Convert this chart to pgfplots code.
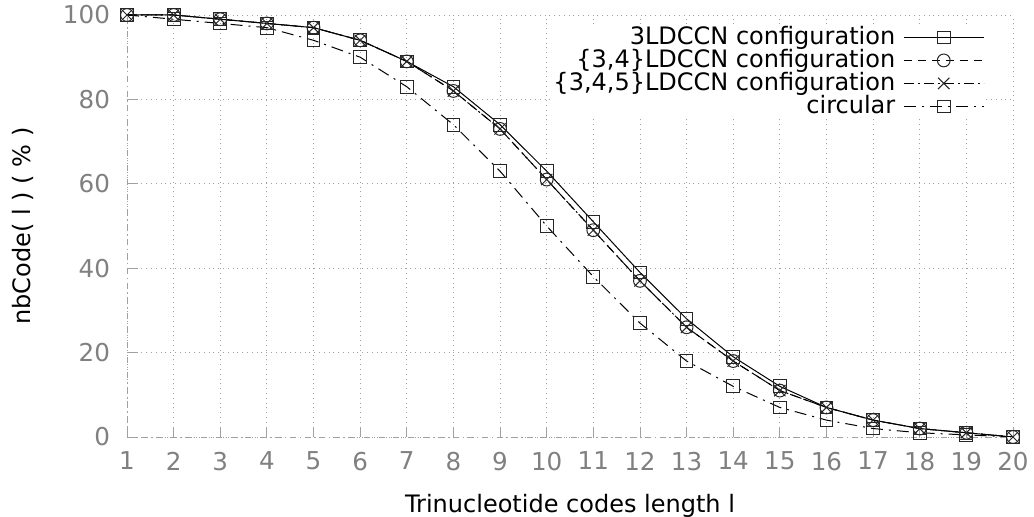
\documentclass[border=0pt]{standalone}
\usepackage{fontspec}
\setmainfont{DejaVu Sans}
\usepackage{pgfplots}
\pgfplotsset{compat=1.18}
\definecolor{ticktext}{RGB}{128,128,128}
\definecolor{gridgray}{RGB}{160,160,160}

\begin{document}
\begin{tikzpicture}
\begin{axis}[
  scale only axis,
  width=443pt, height=211pt,
  xmin=1, xmax=20, ymin=0, ymax=100,
  xtick={1,...,20}, ytick={0,20,...,100},
  axis x line*=bottom, axis y line*=left,
  axis line style={-, gridgray, dash dot},
  tick style={gridgray, thin}, tick align=inside,
  major tick length=5pt,
  grid=major,
  major grid style={gridgray, dotted, thin},
  font=\fontsize{12}{13}\selectfont,
  /pgf/number format/assume math mode=true,
  tick label style={text=ticktext, font=\fontsize{12.3}{13}\selectfont},
  xticklabel style={yshift=-4pt},
  yticklabel style={xshift=-5pt},
  xlabel={Trinucleotide codes length l},
  ylabel={nbCode( l ) ( \% )},
  xlabel style={yshift=-5pt},
  ylabel style={yshift=8pt},
  legend plot pos=right,
  legend cell align=right,
  legend style={draw=none, fill=white, at={(0.968,0.975)}, anchor=north east,
    font=\fontsize{12}{13}\selectfont, row sep=0pt, inner sep=0pt,
    nodes={inner sep=0.5pt, text height=8.8pt, text depth=1.7pt},
    /tikz/every odd column/.append style={column sep=3.5pt}},
  legend image code/.code={\draw[mark repeat=2,mark phase=2] plot coordinates {(0pt,0pt) (20pt,0pt) (40pt,0pt)};},
  every axis plot/.append style={black, line width=0.5pt, mark size=3.2pt, mark options={solid, draw=black!85}},
]
\addplot[mark=square] coordinates {
(1,100) (2,100) (3,99) (4,98) (5,97) (6,94) (7,89) (8,83) (9,74) (10,63)
(11,51) (12,39) (13,28) (14,19) (15,12) (16,7) (17,4) (18,2) (19,1) (20,0)};
\addlegendentry{3LDCCN configuration}
\addplot[mark=o, dash pattern=on 4pt off 3pt] coordinates {
(1,100) (2,100) (3,99) (4,98) (5,97) (6,94) (7,89) (8,82) (9,73) (10,61)
(11,49) (12,37) (13,26) (14,18) (15,11) (16,7) (17,4) (18,2) (19,1) (20,0)};
\addlegendentry{\{3,4\}LDCCN configuration}
\addplot[mark=x, mark size=4pt, dash pattern=on 5pt off 2pt on 1pt off 2pt] coordinates {
(1,100) (2,100) (3,99) (4,98) (5,97) (6,94) (7,89) (8,82) (9,73) (10,61)
(11,49) (12,37) (13,26) (14,18) (15,11) (16,7) (17,4) (18,2) (19,1) (20,0)};
\addlegendentry{\{3,4,5\}LDCCN configuration}
\addplot[mark=square, dash pattern=on 6pt off 3pt on 1pt off 3pt] coordinates {
(1,100) (2,99) (3,98) (4,97) (5,94) (6,90) (7,83) (8,74) (9,63) (10,50)
(11,38) (12,27) (13,18) (14,12) (15,7) (16,4) (17,2) (18,1) (19,0.5) (20,0)};
\addlegendentry{circular}
\end{axis}
\pgfresetboundingbox
\path[use as bounding box] (-63.5pt,-40pt) rectangle (453.5pt,218.5pt);
\end{tikzpicture}
\end{document}
